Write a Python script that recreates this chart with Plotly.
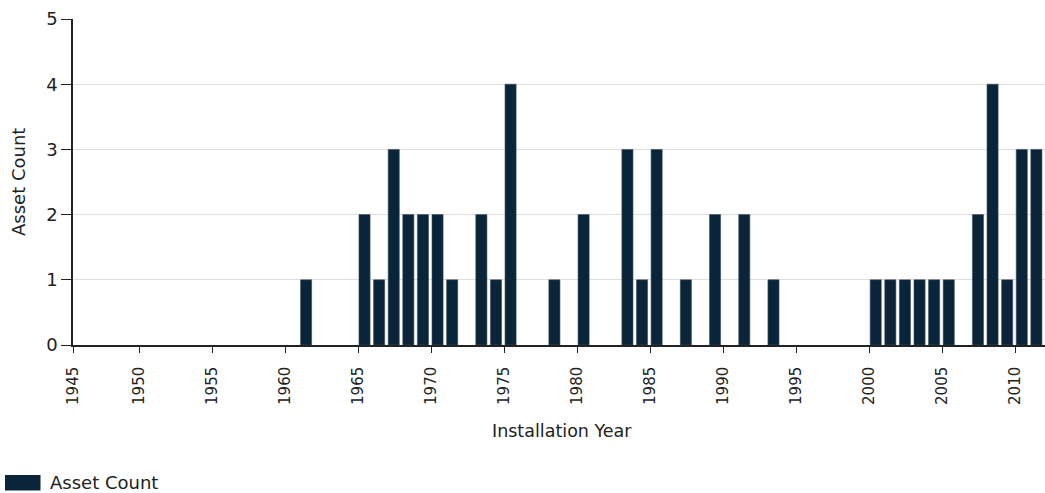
import plotly.graph_objects as go

# Installation year histogram: number of assets installed per year
years = [1961, 1965, 1966, 1967, 1968, 1969, 1970, 1971, 1973, 1974, 1975,
         1978, 1980, 1983, 1984, 1985, 1987, 1989, 1991, 1993,
         2000, 2001, 2002, 2003, 2004, 2005, 2007, 2008, 2009, 2010, 2011]
asset_counts = [1, 2, 1, 3, 2, 2, 2, 1, 2, 1, 4,
                1, 2, 3, 1, 3, 1, 2, 2, 1,
                1, 1, 1, 1, 1, 1, 2, 4, 1, 3, 3]

x_tick_labels = ["1945", "1950", "1955", "1960", "1965", "1970", "1975", "1980",
                 "1985", "1990", "1995", "2000", "2005", "2010"]
y_ticks = [0, 1, 2, 3, 4, 5]

BAR_COLOR = "#0a2439"
FONT = "DejaVu Sans"
TEXT_COLOR = "#222222"

x_min, x_max = 1945.48, 2012.03
x_tick_vals = [max(int(t), x_min) for t in x_tick_labels]

fig = go.Figure()
fig.add_trace(go.Bar(
    x=years,
    y=asset_counts,
    name="Asset Count",
    width=0.76,
    offset=0.06,
    marker=dict(color=BAR_COLOR, line=dict(width=0.6, color="#3a4e60")),
    showlegend=False,
))

fig.update_layout(
    width=1045,
    height=493,
    margin=dict(l=73, r=0, t=19, b=148, autoexpand=False),
    paper_bgcolor="white",
    plot_bgcolor="white",
    font=dict(family=FONT, color=TEXT_COLOR),
    xaxis=dict(
        range=[x_min, x_max],
        tickmode="array",
        tickvals=x_tick_vals,
        ticktext=x_tick_labels,
        tickangle=-90,
        tickfont=dict(size=15, family=FONT, color=TEXT_COLOR),
        ticks="outside",
        ticklen=6,
        tickcolor="#222222",
        ticklabelstandoff=8,
        showline=True,
        linecolor="#222222",
        linewidth=1.5,
        showgrid=False,
        zeroline=False,
        fixedrange=True,
    ),
    yaxis=dict(
        range=[0, 5],
        tickmode="array",
        tickvals=y_ticks,
        tickfont=dict(size=18, family=FONT, color=TEXT_COLOR),
        ticks="outside",
        ticklen=10,
        tickcolor="#222222",
        showline=True,
        linecolor="#222222",
        linewidth=1.5,
        showgrid=True,
        gridcolor="#dedede",
        gridwidth=1,
        zeroline=False,
        fixedrange=True,
    ),
)

plot_w = 1045 - 73
plot_h = 345 - 19


def px_to_paper_x(px):
    return (px - 73) / plot_w


def px_to_paper_y(py):
    return (345 - py) / plot_h


# axis titles
fig.add_annotation(
    text="Installation Year", xref="paper", yref="paper",
    x=px_to_paper_x(562), y=px_to_paper_y(431),
    showarrow=False, xanchor="center", yanchor="middle",
    font=dict(size=17.5, family=FONT, color=TEXT_COLOR),
)
fig.add_annotation(
    text="Asset Count", xref="paper", yref="paper",
    x=px_to_paper_x(18), y=px_to_paper_y(182), textangle=-90,
    showarrow=False, xanchor="center", yanchor="middle",
    font=dict(size=18, family=FONT, color=TEXT_COLOR),
)

# legend entry below the chart
fig.add_shape(
    type="rect", xref="paper", yref="paper",
    x0=px_to_paper_x(5), x1=px_to_paper_x(40.5),
    y0=px_to_paper_y(490.5), y1=px_to_paper_y(475),
    fillcolor=BAR_COLOR, line=dict(width=0),
)
fig.add_annotation(
    text="Asset Count", xref="paper", yref="paper",
    x=px_to_paper_x(48), y=px_to_paper_y(482.5),
    showarrow=False, xanchor="left", yanchor="middle",
    font=dict(size=18, family=FONT, color=TEXT_COLOR),
)

fig.write_html("out.html", config={"displayModeBar": False})
